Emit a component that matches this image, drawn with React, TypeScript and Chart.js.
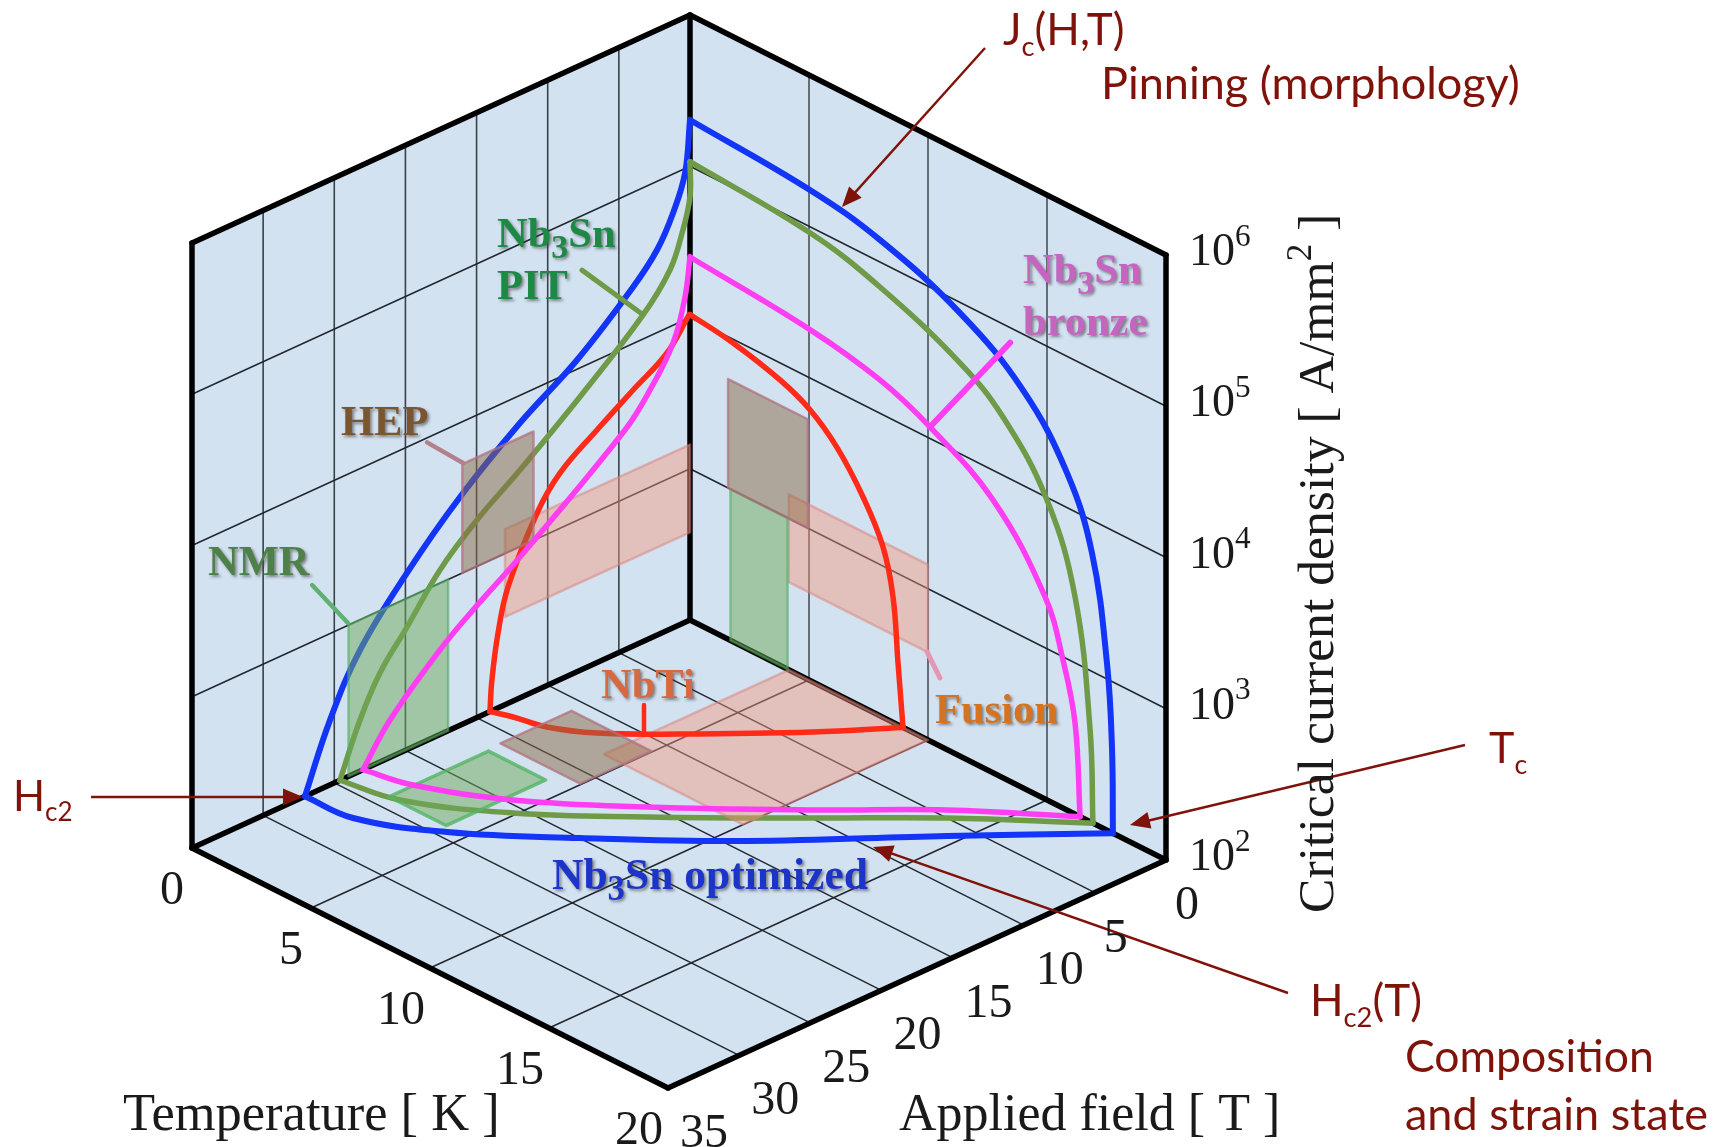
import React, { useEffect, useRef } from "react";
import { Chart, registerables } from "chart.js";
Chart.register(...registerables);

// ---- axis ticks ----
const temperatureTicks = [0, 5, 10, 15, 20];
const fieldTicks = [0, 5, 10, 15, 20, 25, 30, 35];
const logCurrentTicks = [2, 3, 4, 5, 6];

// ---- Jc(H) on the T = 0 wall: [H, log10 J] ----
const optimizedVsField = [[0,5.306],[0.35,4.97],[1.19,4.742],[2.32,4.546],[4,4.374],[7.94,4.061],[11.95,3.817],[16.16,3.509],[19.89,3.168],[23.19,2.8],[25.3,2.428],[27.06,2]];
const pitVsField = [[0,5.03],[0,4.8],[0.56,4.582],[1.41,4.375],[3.3,4.159],[7.52,3.825],[11.95,3.506],[14.97,3.306],[17.57,3.088],[19.89,2.81],[21.79,2.588],[23.19,2.338],[24.6,2]];
const bronzeVsField = [[0,4.4],[0.35,4.151],[1.19,3.883],[2.81,3.642],[4.57,3.453],[11.95,2.931],[15.25,2.723],[17.57,2.559],[21.08,2.247],[22.98,2]];
const nbtiVsField = [[0.07,4.02],[1.62,3.835],[4,3.693],[6.54,3.538],[9.14,3.365],[10.75,3.17],[12.79,2.769],[13.49,2.495],[13.92,2.203],[14.06,2]];

// ---- Jc(T) on the H = 0 wall: [T, log10 J] ----
const optimizedVsTemp = [[0,5.306],[5.04,5.243],[7.98,5.146],[11.34,4.93],[13.99,4.63],[15.84,4.229],[16.89,3.783],[17.52,3.105],[17.73,2.567],[17.77,2]];
const pitVsTemp = [[0,5.03],[5.04,4.96],[7.98,4.835],[11.34,4.6],[13.15,4.385],[15,3.983],[16.18,3.436],[16.81,2.61],[16.93,2]];
const bronzeVsTemp = [[0,4.4],[5.04,4.32],[7.98,4.22],[10.08,4.076],[12.73,3.804],[14.92,3.336],[15.67,2.98],[16.18,2.6],[16.39,2]];
const nbtiVsTemp = [[0,4.02],[1.81,3.975],[3.78,3.887],[5.04,3.79],[6.18,3.63],[7.27,3.39],[8.11,3.126],[8.53,2.83],[8.74,2.41],[8.95,2]];

// ---- Hc2(T) on the floor: [T, H] ----
const optimizedHc2 = [[0,27.06],[1.91,26.88],[4.4,24.44],[7.32,19.98],[10.79,14.05],[14.57,6.31],[17.77,0]];
const pitHc2 = [[0,24.6],[2.06,23.83],[4.89,20.62],[7.74,15.97],[11.11,9.94],[13.79,5],[16.93,0]];
const bronzeHc2 = [[0,22.98],[1.67,22.25],[4.32,19.67],[7.31,15.24],[10.76,9.35],[13.44,4.41],[16.39,0]];
const nbtiHc2 = [[0,14.06],[0.7,13.6],[1.81,13.09],[3.08,11.68],[4.78,8.7],[7.35,3.65],[8.95,0]];

// ---- application regions: field [from,to], temperature [from,to], log J [from,to] ----
const nmrField = [17, 24];
const nmrTemp = [1.7, 4.1];
const nmrLogJ = [2, 3];
const hepField = [11, 16];
const hepTemp = [1.6, 4.95];
const hepLogJ = [3, 3.72];
const fusionField = [0, 13];
const fusionTemp = [4.15, 10];
const fusionLogJ = [2.58, 3.16];

// ---- leader lines ----
const pitLeader = [[7.59,4.64],[3.3,4.16]];      // wall T=0
const hepLeader = [[18.48,3.97],[15.95,3.725]];  // wall T=0
const nmrLeader = [[26.56,3.375],[24.04,3.016]]; // wall T=0
const bronzeLeader = [[13.45,4.9],[10.08,4.076]]; // wall H=0
const fusionLeader = [[9.96,2.58],[10.5,2.45]];   // wall H=0
const nbtiLeader = [[2.79,7.9],[4.1,10.09]];      // floor

// ---- projection of the three physical axes to the page ----
const P = (T: number, H: number, L: number) => ({
  x: 690 + 23.8 * T - 14.229 * H,
  y: 620 + 12 * T + 6.514 * H - 151.25 * (L - 2),
});
const onWallT0 = (a: number[][]) => a.map(([h, l]) => P(0, h, l));
const onWallH0 = (a: number[][]) => a.map(([t, l]) => P(t, 0, l));
const onFloor = (a: number[][]) => a.map(([t, h]) => P(t, h, 2));

const Tmax = temperatureTicks[temperatureTicks.length - 1];
const Hmax = fieldTicks[fieldTicks.length - 1];
const Lmin = logCurrentTicks[0];
const Lmax = logCurrentTicks[logCurrentTicks.length - 1];

const WALL = "#d3e2f1";
const GRID = "#20262c";
const BLUE = "#1235f8";
const OLIVE = "#6f9a47";
const MAGENTA = "#ff3df2";
const RED = "#ff2a18";

function closed(pts: { x: number; y: number }[]) {
  return [...pts, pts[0]];
}
function patch(data: any[], fill: string, stroke: string, width = 2.5) {
  return { data: closed(data), backgroundColor: fill, borderColor: stroke, borderWidth: width, fill: "shape", tension: 0 };
}
function line(data: any[], color: string, width: number, tension = 0) {
  return { data, borderColor: color, borderWidth: width, tension, fill: false };
}
function region(field: number[], temp: number[], logJ: number[], fill: string, stroke: string, floorStroke = stroke, floorWidth = 2.5) {
  return [
    patch([P(0, field[0], logJ[0]), P(0, field[0], logJ[1]), P(0, field[1], logJ[1]), P(0, field[1], logJ[0])], fill, stroke),
    patch([P(temp[0], 0, logJ[0]), P(temp[0], 0, logJ[1]), P(temp[1], 0, logJ[1]), P(temp[1], 0, logJ[0])], fill, stroke),
    patch([P(temp[0], field[0], 2), P(temp[1], field[0], 2), P(temp[1], field[1], 2), P(temp[0], field[1], 2)], fill, floorStroke, floorWidth),
  ];
}

function buildDatasets() {
  const ds: any[] = [];
  // walls and floor
  const bg = (d: any[]) => ds.push({ data: closed(d), backgroundColor: WALL, borderColor: WALL, borderWidth: 0, fill: "shape", tension: 0 });
  bg([P(0, 0, Lmin), P(0, Hmax, Lmin), P(0, Hmax, Lmax), P(0, 0, Lmax)]);
  bg([P(0, 0, Lmin), P(Tmax, 0, Lmin), P(Tmax, 0, Lmax), P(0, 0, Lmax)]);
  bg([P(0, 0, Lmin), P(Tmax, 0, Lmin), P(Tmax, Hmax, Lmin), P(0, Hmax, Lmin)]);
  // grid
  fieldTicks.slice(1, -1).forEach((h) => {
    ds.push(line([P(0, h, Lmin), P(0, h, Lmax)], "#3a4147", 1.6));
    ds.push(line([P(0, h, Lmin), P(Tmax, h, Lmin)], GRID, 1.4));
  });
  temperatureTicks.slice(1, -1).forEach((t) => {
    ds.push(line([P(t, 0, Lmin), P(t, 0, Lmax)], "#4a5157", 1.6));
    ds.push(line([P(t, 0, Lmin), P(t, Hmax, Lmin)], GRID, 1.4));
  });
  logCurrentTicks.slice(1, -1).forEach((l) => {
    ds.push(line([P(0, Hmax, l), P(0, 0, l)], GRID, 1.4));
    ds.push(line([P(0, 0, l), P(Tmax, 0, l)], GRID, 1.4));
  });
  // frame
  const frame = (a: any, b: any) => ds.push(line([a, b], "#000", 5.5));
  frame(P(0, Hmax, Lmin), P(0, Hmax, Lmax));
  frame(P(0, Hmax, Lmax), P(0, 0, Lmax));
  frame(P(0, 0, Lmax), P(Tmax, 0, Lmax));
  frame(P(Tmax, 0, Lmax), P(Tmax, 0, Lmin));
  frame(P(0, 0, Lmin), P(0, 0, Lmax));
  frame(P(0, 0, Lmin), P(0, Hmax, Lmin));
  frame(P(0, 0, Lmin), P(Tmax, 0, Lmin));
  frame(P(0, Hmax, Lmin), P(Tmax, Hmax, Lmin));
  frame(P(Tmax, 0, Lmin), P(Tmax, Hmax, Lmin));
  // curves that lie under the region patches
  const curve = (a: number[][], b: number[][], c: number[][], col: string, w: number) => {
    ds.push(line(onWallT0(a), col, w, 0.4));
    ds.push(line(onWallH0(b), col, w, 0.4));
    ds.push(line(onFloor(c), col, w, 0.4));
  };
  curve(optimizedVsField, optimizedVsTemp, optimizedHc2, BLUE, 6);
  curve(pitVsField, pitVsTemp, pitHc2, OLIVE, 5.5);
  // regions
  ds.push(...region(fusionField, fusionTemp, fusionLogJ, "rgba(245,150,125,0.45)", "rgba(215,130,125,0.5)"));
  curve(nbtiVsField, nbtiVsTemp, nbtiHc2, RED, 5.5);
  ds.push(...region(nmrField, nmrTemp, nmrLogJ, "rgba(110,170,90,0.5)", "rgba(84,170,96,0.6)", "rgba(84,180,100,0.8)", 3.5));
  ds.push(...region(hepField, hepTemp, hepLogJ, "rgba(140,105,70,0.5)", "rgba(175,115,130,0.75)"));
  curve(bronzeVsField, bronzeVsTemp, bronzeHc2, MAGENTA, 5.5);
  // leaders
  ds.push(line(onWallT0(pitLeader), OLIVE, 5));
  ds.push(line(onWallT0(hepLeader), "#b4808e", 4.5));
  ds.push(line(onWallT0(nmrLeader), "#5fb072", 4.5));
  ds.push(line(onWallH0(bronzeLeader), MAGENTA, 6));
  ds.push(line(onWallH0(fusionLeader), "#e596b5", 5));
  ds.push(line(onFloor(nbtiLeader), RED, 4.5));
  return ds.reverse().map((d) => ({ ...d, showLine: true, pointRadius: 0, pointHoverRadius: 0, clip: false, borderCapStyle: "round", borderJoinStyle: "round" }));
}

// ---- text and annotation settings ----
const SERIF = '"Liberation Serif", serif';
const SANS = 'Lato, sans-serif';
const DARKRED = "#7f1209";

type Run = { t: string; sub?: boolean; sup?: boolean };
const labels: { runs: Run[]; x: number; y: number; size: number; color: string; font: string; bold?: boolean; shadow?: boolean; subRatio?: number }[] = [
  { runs: [{ t: "Nb" }, { t: "3", sub: true }, { t: "Sn" }], x: 497, y: 233, size: 42.5, color: "#1c8a45", font: SERIF, bold: true, shadow: true, subRatio: 0.8 },
  { runs: [{ t: "PIT" }], x: 497, y: 285, size: 42.5, color: "#1c8a45", font: SERIF, bold: true, shadow: true },
  { runs: [{ t: "Nb" }, { t: "3", sub: true }, { t: "Sn" }], x: 1023, y: 269, size: 42.5, color: "#c565c0", font: SERIF, bold: true, shadow: true, subRatio: 0.8 },
  { runs: [{ t: "bronze" }], x: 1023, y: 321, size: 42.5, color: "#c565c0", font: SERIF, bold: true, shadow: true },
  { runs: [{ t: "HEP" }], x: 341, y: 421, size: 42.5, color: "#7a5630", font: SERIF, bold: true, shadow: true },
  { runs: [{ t: "NMR" }], x: 208, y: 561, size: 42.5, color: "#4d8148", font: SERIF, bold: true, shadow: true },
  { runs: [{ t: "NbTi" }], x: 601, y: 684, size: 42.5, color: "#d7683f", font: SERIF, bold: true, shadow: true },
  { runs: [{ t: "Fusion" }], x: 935, y: 709, size: 42.5, color: "#d5731f", font: SERIF, bold: true, shadow: true },
  { runs: [{ t: "Nb" }, { t: "3", sub: true }, { t: "Sn optimized" }], x: 552, y: 875, size: 43.5, color: "#1c34c8", font: SERIF, bold: true, shadow: true, subRatio: 0.8 },
  { runs: [{ t: "Temperature [ K ]" }], x: 123, y: 1113, size: 52.5, color: "#1a1a1a", font: SERIF },
  { runs: [{ t: "Applied field [ T ]" }], x: 899, y: 1113, size: 52, color: "#1a1a1a", font: SERIF },
  { runs: [{ t: "J" }, { t: "c", sub: true }, { t: "(H,T)" }], x: 1003, y: 30, size: 44, color: DARKRED, font: SANS, subRatio: 0.62 },
  { runs: [{ t: "Pinning (morphology)" }], x: 1101, y: 84, size: 45, color: DARKRED, font: SANS },
  { runs: [{ t: "T" }, { t: "c", sub: true }], x: 1489, y: 749, size: 43, color: DARKRED, font: SANS, subRatio: 0.62 },
  { runs: [{ t: "H" }, { t: "c2", sub: true }], x: 13, y: 797, size: 42, color: DARKRED, font: SANS, subRatio: 0.62 },
  { runs: [{ t: "H" }, { t: "c2", sub: true }, { t: "(T)" }], x: 1310, y: 1001, size: 44, color: DARKRED, font: SANS, subRatio: 0.62 },
  { runs: [{ t: "Composition" }], x: 1405, y: 1057, size: 44.5, color: DARKRED, font: SANS },
  { runs: [{ t: "and strain state" }], x: 1405, y: 1115, size: 45, color: DARKRED, font: SANS },
];
const arrows = [
  { tail: [985, 48], tip: [842, 207] },
  { tail: [91, 797], tip: [303, 797] },
  { tail: [1465, 745], tip: [1130, 825] },
  { tail: [1288, 993], tip: [873, 847] },
];

function drawRuns(ctx: any, runs: Run[], x0: number, y0: number, size: number, font: string, bold: boolean, subRatio = 0.68) {
  let x = x0;
  runs.forEach((r) => {
    const s = r.sub || r.sup ? size * subRatio : size;
    ctx.font = `${bold ? "bold " : ""}${s}px ${font}`;
    const dy = r.sub ? size * 0.25 : r.sup ? -size * 0.42 : 0;
    ctx.fillText(r.t, x, y0 + dy);
    x += ctx.measureText(r.t).width;
  });
}

const annotationPlugin = {
  id: "annotations",
  afterDatasetsDraw(chart: any) {
    const { ctx } = chart;
    const sx = (v: number) => chart.scales.x.getPixelForValue(v);
    const sy = (v: number) => chart.scales.y.getPixelForValue(v);
    ctx.save();
    ctx.textBaseline = "alphabetic";
    // arrows
    arrows.forEach(({ tail, tip }) => {
      const [x1, y1, x2, y2] = [sx(tail[0]), sy(tail[1]), sx(tip[0]), sy(tip[1])];
      const a = Math.atan2(y2 - y1, x2 - x1);
      ctx.strokeStyle = DARKRED;
      ctx.fillStyle = DARKRED;
      ctx.lineWidth = 2.4;
      ctx.beginPath();
      ctx.moveTo(x1, y1);
      ctx.lineTo(x2 - 12 * Math.cos(a), y2 - 12 * Math.sin(a));
      ctx.stroke();
      ctx.beginPath();
      ctx.moveTo(x2, y2);
      ctx.lineTo(x2 - 20 * Math.cos(a) + 8.5 * Math.sin(a), y2 - 20 * Math.sin(a) - 8.5 * Math.cos(a));
      ctx.lineTo(x2 - 20 * Math.cos(a) - 8.5 * Math.sin(a), y2 - 20 * Math.sin(a) + 8.5 * Math.cos(a));
      ctx.closePath();
      ctx.fill();
    });
    // axis numbers
    ctx.fillStyle = "#1a1a1a";
    ctx.textAlign = "center";
    ctx.font = `48px ${SERIF}`;
    temperatureTicks.forEach((t) => {
      const p = P(t, Hmax, Lmin);
      const dx = t >= 10 ? -29 : -20;
      ctx.fillText(String(t), sx(p.x + dx), sy(p.y + 40 + 16));
    });
    fieldTicks.forEach((h) => {
      const p = P(Tmax, h, Lmin);
      const dx = h >= 10 ? 36 : 21;
      ctx.fillText(String(h), sx(p.x + dx), sy(p.y + 43 + 16));
    });
    ctx.textAlign = "left";
    logCurrentTicks.forEach((l) => {
      const p = P(Tmax, 0, l);
      drawRuns(ctx, [{ t: "10" }, { t: String(l), sup: true }], sx(p.x + 23), sy(p.y + 10), 46, SERIF, false);
    });
    // rotated axis title
    ctx.save();
    ctx.translate(sx(1333), sy(913));
    ctx.rotate(-Math.PI / 2);
    drawRuns(ctx, [{ t: "Critical current density [ A/mm" }, { t: "2", sup: true }, { t: " ]" }], 0, 0, 51.7, SERIF, false);
    ctx.restore();
    // labels
    labels.forEach((lb) => {
      ctx.save();
      ctx.fillStyle = lb.color;
      if (lb.shadow) {
        ctx.shadowColor = "rgba(60,60,60,0.6)";
        ctx.shadowBlur = 3;
        ctx.shadowOffsetX = 2;
        ctx.shadowOffsetY = 2;
      }
      drawRuns(ctx, lb.runs, sx(lb.x), sy(lb.y + lb.size * 0.33), lb.size, lb.font, !!lb.bold, lb.subRatio);
      ctx.restore();
    });
    ctx.restore();
  },
};

export default function App() {
  const ref = useRef<HTMLCanvasElement>(null);
  useEffect(() => {
    document.body.style.margin = "0";
    document.body.style.background = "#fff";
    const chart = new Chart(ref.current as HTMLCanvasElement, {
      type: "scatter",
      data: { datasets: buildDatasets() as any },
      plugins: [annotationPlugin],
      options: {
        animation: false,
        responsive: false,
        layout: { padding: 0 },
        plugins: { legend: { display: false }, tooltip: { enabled: false } },
        scales: {
          x: { type: "linear", display: false, min: 0, max: 1714 },
          y: { type: "linear", display: false, min: 0, max: 1147, reverse: true },
        },
      } as any,
    });
    return () => chart.destroy();
  }, []);
  return <canvas ref={ref} width={1714} height={1147} style={{ display: "block", width: 1714, height: 1147 }} />;
}
